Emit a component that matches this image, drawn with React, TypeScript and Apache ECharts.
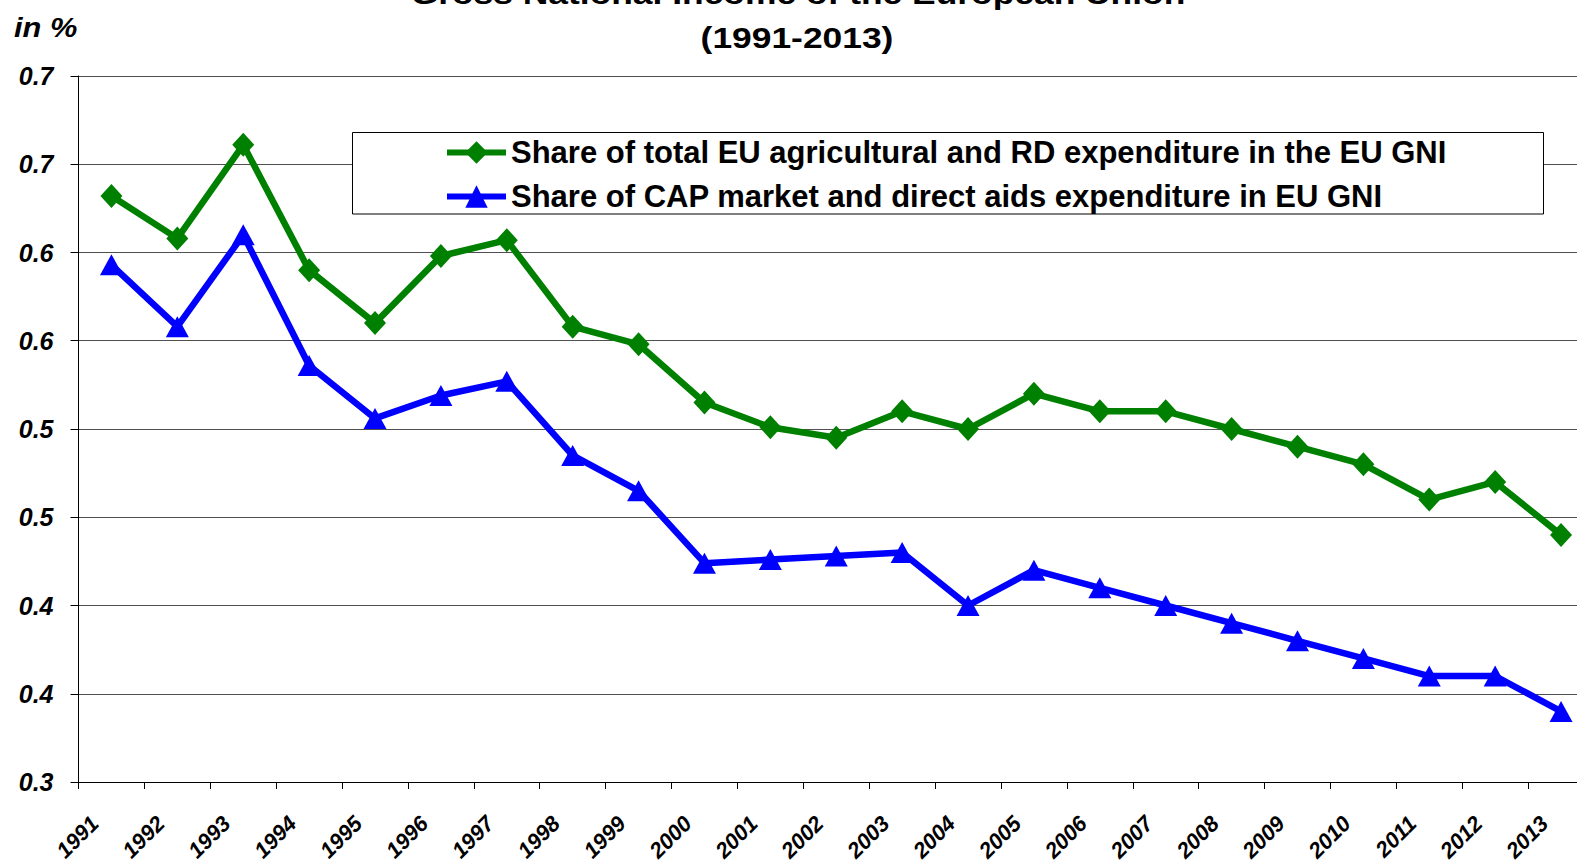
import React, { useEffect, useRef } from "react";
import * as echarts from "echarts";

const years = [
  "1991", "1992", "1993", "1994", "1995", "1996", "1997", "1998", "1999", "2000",
  "2001", "2002", "2003", "2004", "2005", "2006", "2007", "2008", "2009", "2010",
  "2011", "2012", "2013",
];

const totalAgriRd = [
  0.632, 0.608, 0.661, 0.590, 0.560, 0.598, 0.607, 0.558, 0.548, 0.515,
  0.501, 0.495, 0.510, 0.500, 0.520, 0.510, 0.510, 0.500, 0.490, 0.480,
  0.460, 0.470, 0.440,
];

const capMarketDirect = [
  0.593, 0.558, 0.610, 0.536, 0.506, 0.519, 0.527, 0.485, 0.465, 0.424,
  0.426, 0.428, 0.430, 0.400, 0.420, 0.410, 0.400, 0.390, 0.380, 0.370,
  0.360, 0.360, 0.340,
];

const yTickLabels = ["0.3", "0.4", "0.4", "0.5", "0.5", "0.6", "0.6", "0.7", "0.7"];

const seriesNames = [
  "Share of total EU agricultural and RD expenditure in the EU GNI",
  "Share of CAP market and direct aids expenditure in EU GNI",
];

const titleLines = ["Gross National Income of the European Union", "(1991-2013)"];

const FONT = '"Liberation Sans", Arial, Helvetica, sans-serif';

export default function App() {
  const ref = useRef<HTMLDivElement>(null);

  useEffect(() => {
    if (!ref.current) return;
    const chart = echarts.init(ref.current, undefined, { renderer: "svg" });

    const baseGraphics: any[] = [
      {
        type: "rect",
        id: "legendBox",
        z: 5,
        shape: { x: 352.5, y: 132.5, width: 1191, height: 81.5 },
        style: { fill: "#ffffff", stroke: "#000000", lineWidth: 1 },
      },
      {
        type: "text",
        id: "title1",
        x: 798,
        y: -6.5,
        scaleX: 1.18,
        z: 5,
        style: {
          text: titleLines[0],
          fontFamily: FONT,
          fontSize: 30,
          fontWeight: "bold",
          fill: "#000000",
          align: "center",
          verticalAlign: "middle",
        },
      },
      {
        type: "text",
        id: "title2",
        x: 797,
        y: 37.5,
        scaleX: 1.18,
        z: 5,
        style: {
          text: titleLines[1],
          fontFamily: FONT,
          fontSize: 30,
          fontWeight: "bold",
          fill: "#000000",
          align: "center",
          verticalAlign: "middle",
        },
      },
      {
        type: "text",
        id: "unit",
        x: 14,
        y: 27,
        scaleX: 1.1,
        z: 5,
        style: {
          text: "in %",
          fontFamily: FONT,
          fontSize: 28,
          fontWeight: "bold",
          fontStyle: "italic",
          fill: "#000000",
          align: "left",
          verticalAlign: "middle",
        },
      },
    ];

    chart.setOption({
      animation: false,
      backgroundColor: "#ffffff",
      textStyle: { fontFamily: FONT },
      grid: {
        left: 78.5,
        top: 76,
        width: 1515.5,
        height: 706,
        containLabel: false,
        outerBoundsMode: "none",
      },
      legend: {
        orient: "vertical",
        left: 444,
        top: 137,
        padding: 0,
        itemWidth: 59,
        itemHeight: 28,
        itemGap: 13,
        z: 10,
        data: seriesNames,
        lineStyle: { width: 6 },
        textStyle: {
          fontFamily: FONT,
          fontSize: 31,
          fontWeight: "bold",
          color: "#000000",
          lineHeight: 28,
        },
      },
      graphic: baseGraphics,
      xAxis: {
        type: "category",
        data: years,
        boundaryGap: true,
        axisLine: { show: true, lineStyle: { color: "#000000", width: 1 } },
        axisTick: { show: true, length: 7, alignWithLabel: false, lineStyle: { color: "#000000" } },
        splitLine: { show: false },
        axisLabel: { show: false },
      },
      yAxis: {
        type: "value",
        min: 0.3,
        max: 0.7,
        interval: 0.05,
        axisLine: { show: true, lineStyle: { color: "#000000", width: 1 } },
        axisTick: { show: true, length: 8, lineStyle: { color: "#000000" } },
        splitLine: { show: true, lineStyle: { color: "#505050", width: 1 } },
        axisLabel: {
          margin: 25,
          fontFamily: FONT,
          fontSize: 25,
          fontWeight: "bold",
          fontStyle: "italic",
          color: "#000000",
          formatter: (_v: number, i: number) => yTickLabels[i] ?? "",
        },
      },
      series: [
        {
          name: seriesNames[0],
          type: "line",
          data: totalAgriRd,
          symbol: "diamond",
          symbolSize: [22, 24],
          lineStyle: { color: "#008000", width: 6.5 },
          itemStyle: { color: "#008000" },
          z: 3,
        },
        {
          name: seriesNames[1],
          type: "line",
          data: capMarketDirect,
          symbol: "triangle",
          symbolSize: [23, 21],
          lineStyle: { color: "#0000ff", width: 6.5 },
          itemStyle: { color: "#0000ff" },
          z: 3,
        },
      ],
    });

    // Category labels, rotated 45°, placed from the x axis scale
    const axisY = chart.convertToPixel({ yAxisIndex: 0 }, 0.3) as number;
    const labelGraphics = years.map((yr, i) => {
      const cx = chart.convertToPixel({ xAxisIndex: 0 }, yr) as number;
      return {
        type: "text",
        id: "xlab" + i,
        x: cx - 16.6,
        y: axisY + 37.7,
        rotation: Math.PI / 4,
        z: 5,
        style: {
          text: yr,
          fontFamily: FONT,
          fontSize: 22,
          fontWeight: "bold",
          fontStyle: "italic",
          fill: "#000000",
          align: "right",
          verticalAlign: "middle",
        },
      };
    });
    chart.setOption({ graphic: [...baseGraphics, ...labelGraphics] });

    return () => chart.dispose();
  }, []);

  return (
    <div
      ref={ref}
      style={{ position: "absolute", left: 0, top: 0, width: 1577, height: 864 }}
    />
  );
}
